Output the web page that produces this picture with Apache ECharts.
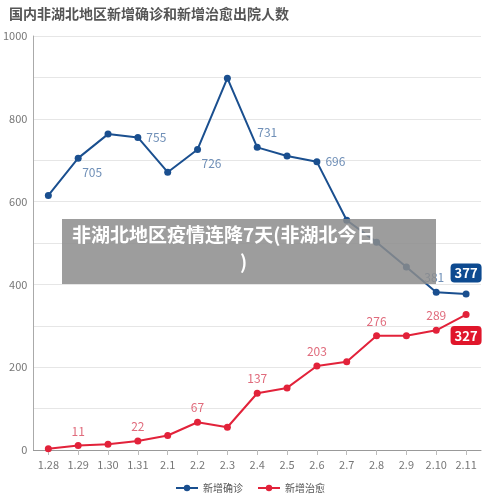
<!DOCTYPE html>
<html><head><meta charset="utf-8">
<script src="https://cdn.jsdelivr.net/npm/echarts@6/dist/echarts.min.js"></script>
<style>html,body{margin:0;background:#fff}#c{width:500px;height:504px}</style>
</head><body><div id="c"></div>
<script>
var dates = ['1.28','1.29','1.30','1.31','2.1','2.2','2.3','2.4','2.5','2.6','2.7','2.8','2.9','2.10','2.11'];
var confirmed = [615, 705, 763, 755, 671, 726, 898, 731, 710, 696, 555, 502, 442, 381, 377];
var cured = [3, 11, 14, 22, 35, 67, 55, 137, 150, 203, 213, 276, 276, 289, 327];
var blueShown = {1: 'bottom', 3: 'right', 5: 'bottom', 7: 'top', 9: 'right', 13: 'top'};
var redShown = [1, 3, 5, 7, 9, 11, 13];
var FONT = '"Noto Sans CJK SC", sans-serif';

var blueData = confirmed.map(function (v, i) {
  var d = {value: v};
  if (i === confirmed.length - 1) {
    d.label = {show: true, position: 'top', distance: 8, color: '#fff', backgroundColor: '#0d4a90',
      borderRadius: 4, padding: [3, 4], fontSize: 13, fontWeight: 'bold'};
  } else if (blueShown[i]) {
    var off = {bottom: [14, 0], top: [10, 0], right: [0, 0]}[blueShown[i]];
    if (i === 13) off = [-2, 0];
    d.label = {show: true, position: blueShown[i], offset: off};
  }
  return d;
});
var redData = cured.map(function (v, i) {
  var d = {value: v};
  if (i === cured.length - 1) {
    d.label = {show: true, position: 'bottom', distance: 8, color: '#fff', backgroundColor: '#e0162b',
      borderRadius: 4, padding: [3, 4], fontSize: 13, fontWeight: 'bold'};
  } else if (redShown.indexOf(i) >= 0) {
    d.label = {show: true, position: 'top'};
  }
  return d;
});

var chart = echarts.init(document.getElementById('c'));
chart.setOption({
  textStyle: {fontFamily: FONT},
  title: {text: '国内非湖北地区新增确诊和新增治愈出院人数', left: 4, top: 2,
    textStyle: {fontSize: 14, fontWeight: 'bold', color: '#555', fontFamily: FONT}},
  grid: {left: 31, right: 19, top: 36, bottom: 54},
  legend: {bottom: 6, left: 'center', itemWidth: 22, itemHeight: 8, itemGap: 14,
    textStyle: {fontSize: 10, color: '#555'},
    data: ['新增确诊', '新增治愈']},
  xAxis: {type: 'category', data: dates, boundaryGap: true,
    axisLine: {lineStyle: {color: '#999'}}, axisTick: {show: true, alignWithLabel: true, lineStyle: {color: '#bbb'}},
    axisLabel: {color: '#777', fontSize: 11, margin: 9}},
  yAxis: {type: 'value', min: 0, max: 1000, interval: 100,
    axisLine: {show: true, lineStyle: {color: '#aaa'}},
    axisLabel: {color: '#777', fontSize: 11, margin: 6,
      formatter: function (v) { return v % 200 === 0 ? v : ''; }},
    splitLine: {lineStyle: {color: '#e6e6e6'}}},
  series: [
    {name: '新增确诊', type: 'line', data: blueData, symbol: 'circle', symbolSize: 7,
      itemStyle: {color: '#1a4f8f'}, lineStyle: {width: 2, color: '#1a4f8f'},
      label: {show: false, color: '#6f8fb7', fontSize: 12}},
    {name: '新增治愈', type: 'line', data: redData, symbol: 'circle', symbolSize: 7,
      itemStyle: {color: '#e2223a'}, lineStyle: {width: 2, color: '#e2223a'},
      label: {show: false, color: '#e06b7c', fontSize: 12}}
  ],
  graphic: [
    {type: 'rect', left: 62, top: 219, shape: {width: 374, height: 65}, style: {fill: 'rgba(140,140,140,0.85)'}, z: 100},
    {type: 'text', left: 72, top: 225, z: 101, style: {text: '非湖北地区疫情连降7天(非湖北今日', fill: '#fff',
      font: 'bold 19px "Noto Sans CJK SC"'}},
    {type: 'text', left: 240, top: 252, z: 101, style: {text: ')', fill: '#fff', font: 'bold 19px "Noto Sans CJK SC"'}}
  ]
});
</script></body></html>
